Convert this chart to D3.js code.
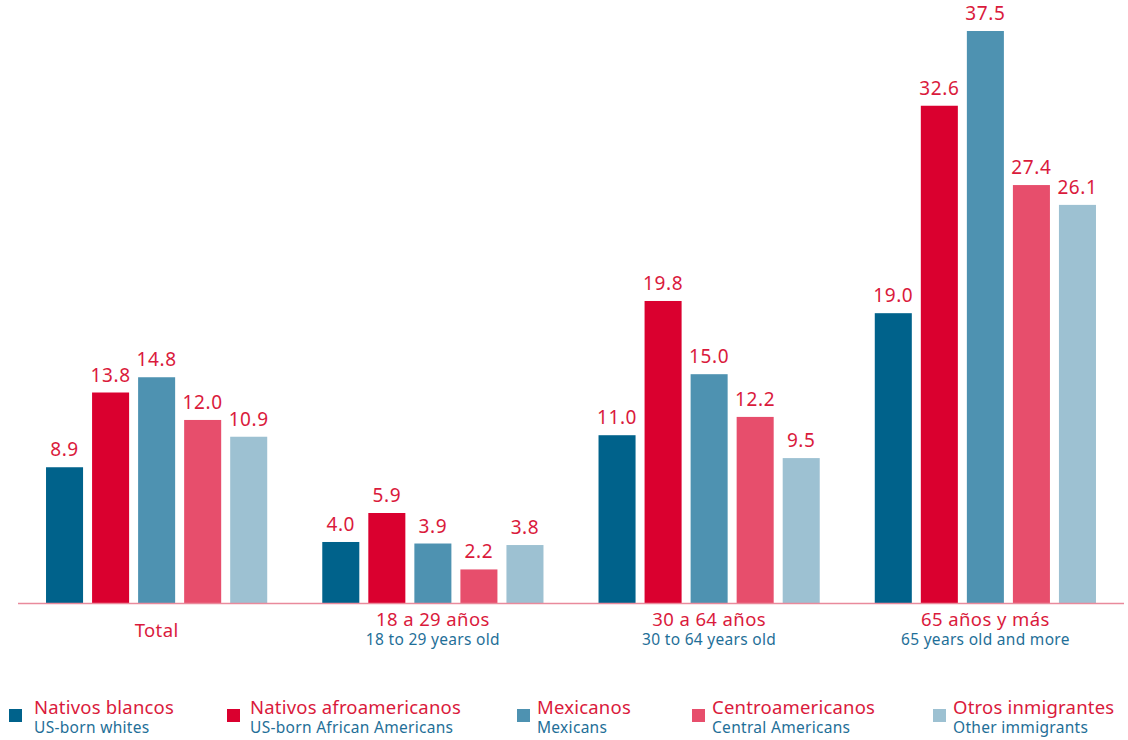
<!DOCTYPE html>
<html>
<head>
<meta charset="utf-8">
<script src="https://cdn.jsdelivr.net/npm/d3@7"></script>
<style>
  html, body { margin: 0; padding: 0; background: #ffffff; }
  svg { display: block; font-family: "Noto Sans", "Open Sans", sans-serif; }
</style>
</head>
<body>
<svg id="chart" width="1128" height="740"></svg>
<script>
// Age groups (Spanish label + English subtitle)
const groups = ["Total", "18 a 29 años", "30 a 64 años", "65 años y más"];
const groupSubtitles = ["", "18 to 29 years old", "30 to 64 years old", "65 years old and more"];

// Population series
const seriesKeys = ["blancos", "afro", "mexicanos", "centro", "otros"];
const seriesNames = ["Nativos blancos", "Nativos afroamericanos", "Mexicanos", "Centroamericanos", "Otros inmigrantes"];
const seriesNamesEn = ["US-born whites", "US-born African Americans", "Mexicans", "Central Americans", "Other immigrants"];
const seriesColors = ["#00628b", "#da002f", "#4e92b1", "#e74e6c", "#9dc1d2"];

// Values per series, in group order
const blancos   = [8.9, 4.0, 11.0, 19.0];
const afro      = [13.8, 5.9, 19.8, 32.6];
const mexicanos = [14.8, 3.9, 15.0, 37.5];
const centro    = [12.0, 2.2, 12.2, 27.4];
const otros     = [10.9, 3.8, 9.5, 26.1];

const seriesValues = [blancos, afro, mexicanos, centro, otros];

const data = groups.map((g, gi) => ({
  group: g,
  sub: groupSubtitles[gi],
  values: seriesKeys.map((k, si) => ({ key: k, value: seriesValues[si][gi], color: seriesColors[si] }))
}));

const svg = d3.select("#chart");
const baseline = 603;
const textRed = "#da1a3c";
const textBlue = "#1f6f98";

const x0 = d3.scaleBand()
  .domain(groups)
  .range([18.5, 1123.5])
  .paddingInner(46 / 276)
  .paddingOuter(23 / 276);

const x1 = d3.scaleBand()
  .domain(seriesKeys)
  .range([0, x0.bandwidth()])
  .paddingInner(9 / 46)
  .paddingOuter(4.5 / 46);

const y = d3.scaleLinear()
  .domain([0, 37.5])
  .range([baseline, 31]);

const g = svg.append("g");

const grp = g.selectAll(".grp")
  .data(data)
  .join("g")
  .attr("class", "grp")
  .attr("transform", d => `translate(${x0(d.group)},0)`);

grp.selectAll("rect")
  .data(d => d.values)
  .join("rect")
  .attr("x", d => x1(d.key))
  .attr("y", d => y(d.value))
  .attr("width", x1.bandwidth())
  .attr("height", d => baseline - y(d.value))
  .attr("fill", d => d.color);

grp.selectAll("text.val")
  .data(d => d.values)
  .join("text")
  .attr("class", "val")
  .attr("x", d => x1(d.key) + x1.bandwidth() / 2)
  .attr("y", d => y(d.value) - 11)
  .attr("text-anchor", "middle")
  .attr("fill", textRed)
  .attr("font-size", 19)
  .attr("letter-spacing", 0.6)
  .text(d => d.value.toFixed(1));

// Baseline
svg.append("line")
  .attr("x1", 18).attr("x2", 1124)
  .attr("y1", baseline + 0.5).attr("y2", baseline + 0.5)
  .attr("stroke", "#e98a9c")
  .attr("stroke-width", 1.5);

// Group labels
const lab = svg.append("g").selectAll("g")
  .data(data)
  .join("g")
  .attr("transform", d => `translate(${x0(d.group) + x0.bandwidth() / 2},0)`);

lab.append("text")
  .attr("y", d => d.sub ? 626 : 637)
  .attr("text-anchor", "middle")
  .attr("fill", textRed)
  .attr("font-size", 18.5)
  .attr("letter-spacing", 0.4)
  .text(d => d.group);

lab.append("text")
  .attr("y", 645)
  .attr("text-anchor", "middle")
  .attr("fill", textBlue)
  .attr("font-size", 15.5)
  .attr("letter-spacing", 0.3)
  .text(d => d.sub);

// Legend
const legendSquareX = [9, 227, 517, 692, 933];
const legendTextX = [34, 250, 537, 712, 953];
const leg = svg.append("g").selectAll("g")
  .data(seriesKeys)
  .join("g");

leg.append("rect")
  .attr("x", (d, i) => legendSquareX[i]).attr("y", 709)
  .attr("width", 13).attr("height", 13)
  .attr("fill", (d, i) => seriesColors[i]);

leg.append("text")
  .attr("x", (d, i) => legendTextX[i]).attr("y", 714)
  .attr("fill", textRed)
  .attr("font-size", 18.5)
  .attr("letter-spacing", 0.2)
  .text((d, i) => seriesNames[i]);

leg.append("text")
  .attr("x", (d, i) => legendTextX[i]).attr("y", 733)
  .attr("fill", textBlue)
  .attr("font-size", 15.5)
  .attr("letter-spacing", 0.3)
  .text((d, i) => seriesNamesEn[i]);
</script>
</body>
</html>
